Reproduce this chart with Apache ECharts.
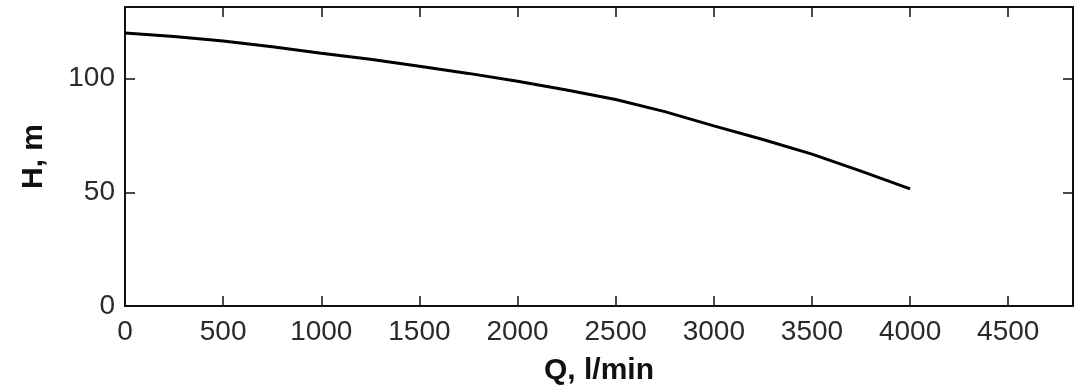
<!DOCTYPE html>
<html>
<head>
<meta charset="utf-8">
<script src="https://cdn.jsdelivr.net/npm/echarts@6/dist/echarts.min.js"></script>
<style>
html,body{margin:0;padding:0;background:#fff;}
#chart{width:1076px;height:391px;}
</style>
</head>
<body>
<div id="chart"></div>
<script>
// Data
const flowQ = [0, 250, 500, 750, 1000, 1250, 1500, 1750, 2000, 2250, 2500, 2750, 3000, 3250, 3500, 3750, 4000];
const headH = [120.1, 118.5, 116.5, 114.0, 111.2, 108.5, 105.4, 102.3, 98.8, 95.0, 90.8, 85.5, 79.2, 73.2, 66.8, 59.3, 51.5];
const xTicks = [0, 500, 1000, 1500, 2000, 2500, 3000, 3500, 4000, 4500];
const yTicks = [0, 50, 100];
const xName = 'Q, l/min';
const yName = 'H, m';

const points = flowQ.map((q, i) => [q, headH[i]]);
const tickFont = {fontFamily: 'Liberation Sans', fontSize: 28, color: '#2a2a2a'};
const nameFont = {fontFamily: 'Liberation Sans', fontSize: 30, fontWeight: 'bold', color: '#111'};
const axisLine = {show: true, onZero: false, lineStyle: {color: '#111', width: 2}};
const tick = {show: true, inside: true, length: 10, lineStyle: {color: '#111', width: 1.5}};

const chart = echarts.init(document.getElementById('chart'));
chart.setOption({
  animation: false,
  backgroundColor: '#fff',
  grid: {left: 125, right: 3, top: 7, bottom: 83},
  xAxis: [{
    type: 'value', min: 0, max: 4830, interval: 500, position: 'bottom',
    name: xName, nameLocation: 'middle', nameGap: 50, nameTextStyle: nameFont,
    axisLine: axisLine, axisTick: tick, splitLine: {show: false},
    axisLabel: Object.assign({margin: 12, showMaxLabel: false,
      formatter: v => xTicks.includes(v) ? String(v) : ''}, tickFont)
  }, {
    type: 'value', min: 0, max: 4830, interval: 500, position: 'top',
    axisLine: axisLine, axisTick: tick, splitLine: {show: false}, axisLabel: {show: false}
  }],
  yAxis: [{
    type: 'value', min: 0, max: 131.5, interval: 50, position: 'left',
    name: yName, nameLocation: 'middle', nameGap: 76, nameRotate: 90, nameTextStyle: nameFont,
    axisLine: axisLine, axisTick: tick, splitLine: {show: false},
    axisLabel: Object.assign({margin: 10, showMaxLabel: false,
      formatter: v => yTicks.includes(v) ? String(v) : ''}, tickFont)
  }, {
    type: 'value', min: 0, max: 131.5, interval: 50, position: 'right',
    axisLine: axisLine, axisTick: tick, splitLine: {show: false}, axisLabel: {show: false}
  }],
  series: [{
    type: 'line', data: points, smooth: false, showSymbol: false,
    lineStyle: {color: '#000', width: 3}
  }]
});
</script>
</body>
</html>
